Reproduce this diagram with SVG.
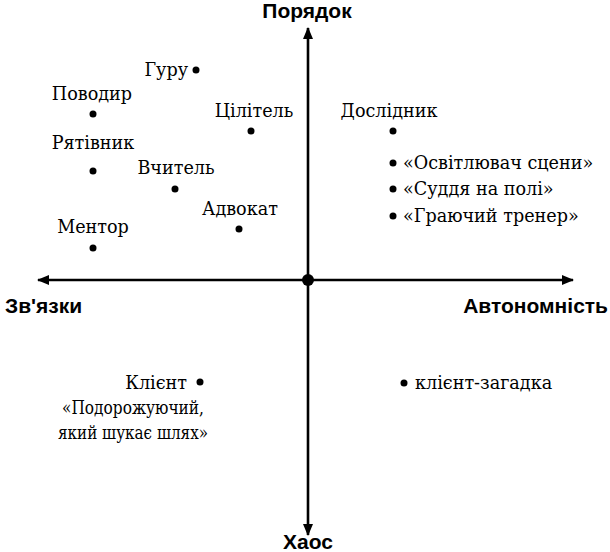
<svg xmlns="http://www.w3.org/2000/svg" width="610" height="552" viewBox="0 0 610 552">
<style>
.ax{font-family:"Liberation Sans",Arial,sans-serif;font-weight:bold;font-size:21px;fill:#000}
.t{font-family:"DejaVu Serif",serif;font-size:17.6px;fill:#000}
.d{fill:#000}
.axis{stroke:#000;stroke-width:2.6;fill:none}
</style>
<defs>
<marker id="arr" markerUnits="userSpaceOnUse" markerWidth="12" markerHeight="10" refX="11" refY="5" orient="auto">
<path d="M0,0 L12,5 L0,10 Z" fill="#000"/>
</marker>
</defs>
<rect width="610" height="552" fill="#fff"/>
<g id="connectors">
<line class="axis" x1="308" y1="280" x2="308" y2="28" marker-end="url(#arr)"/>
<line class="axis" x1="308" y1="280" x2="308" y2="535" marker-end="url(#arr)"/>
<line class="axis" x1="308" y1="280" x2="38" y2="280" marker-end="url(#arr)"/>
<line class="axis" x1="308" y1="280" x2="573" y2="280" marker-end="url(#arr)"/>
<circle class="d" cx="308" cy="280" r="6"/>
</g>
<g id="axis-labels">
<text class="ax" x="307" y="18" text-anchor="middle">Порядок</text>
<text class="ax" x="308" y="549" text-anchor="middle">Хаос</text>
<text class="ax" x="5" y="313">Зв'язки</text>
<text class="ax" x="608" y="313" text-anchor="end">Автономність</text>
</g>
<g id="guru"><text class="t" x="188" y="76" text-anchor="end">Гуру</text><circle class="d" cx="196" cy="70" r="3.5"/></g>
<g id="povodyr"><text class="t" x="92" y="100" text-anchor="middle">Поводир</text><circle class="d" cx="93" cy="114" r="3.5"/></g>
<g id="tsilytel"><text class="t" x="254" y="117" text-anchor="middle">Цілітель</text><circle class="d" cx="251" cy="131" r="3.5"/></g>
<g id="riativnyk"><text class="t" x="93" y="149" text-anchor="middle">Рятівник</text><circle class="d" cx="93" cy="171" r="3.5"/></g>
<g id="vchytel"><text class="t" x="176" y="174" text-anchor="middle">Вчитель</text><circle class="d" cx="175" cy="189" r="3.5"/></g>
<g id="advokat"><text class="t" x="240" y="215" text-anchor="middle">Адвокат</text><circle class="d" cx="239" cy="229" r="3.5"/></g>
<g id="mentor"><text class="t" x="93" y="233" text-anchor="middle">Ментор</text><circle class="d" cx="93" cy="248" r="3.5"/></g>
<g id="doslidnyk"><text class="t" x="389" y="117" text-anchor="middle">Дослідник</text><circle class="d" cx="393" cy="131" r="3.5"/></g>
<g id="osvitliuvach"><circle class="d" cx="393" cy="163" r="3.5"/><text class="t" x="403" y="169">«Освітлювач сцени»</text></g>
<g id="suddia"><circle class="d" cx="393" cy="189" r="3.5"/><text class="t" x="403" y="195">«Суддя на полі»</text></g>
<g id="hraiuchyi"><circle class="d" cx="393" cy="216" r="3.5"/><text class="t" x="403" y="222">«Граючий тренер»</text></g>
<g id="klient">
<text class="t" x="187" y="389" text-anchor="end">Клієнт</text><circle class="d" cx="200" cy="382" r="3.5"/>
<text class="t" x="62" y="414" textLength="142" lengthAdjust="spacingAndGlyphs">«Подорожуючий,</text>
<text class="t" x="58" y="439" textLength="150" lengthAdjust="spacingAndGlyphs">який шукає шлях»</text>
</g>
<g id="klient-zagadka"><circle class="d" cx="404" cy="383" r="3.5"/><text class="t" x="415" y="389">клієнт-загадка</text></g>
</svg>
